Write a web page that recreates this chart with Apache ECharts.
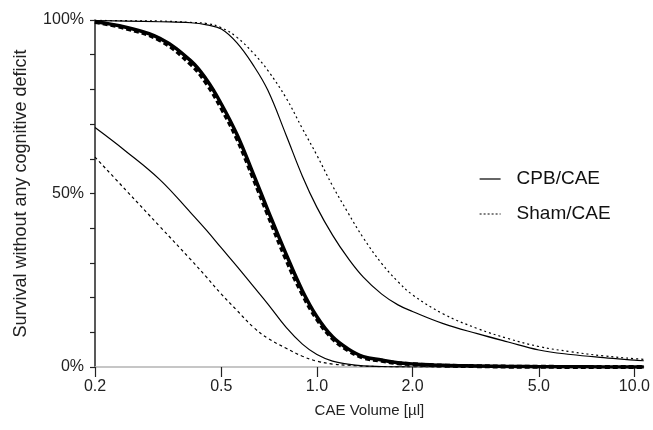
<!DOCTYPE html>
<html>
<head>
<meta charset="utf-8">
<script src="https://cdn.jsdelivr.net/npm/echarts@6/dist/echarts.min.js"></script>
<style>
  html, body { margin: 0; padding: 0; background: #fff; }
  #chart { width: 653px; height: 430px; }
</style>
</head>
<body>
<div id="chart"></div>
<script>
// CAE volume (µl) sampled along the curves
const volumes = [0.2, 0.25, 0.32, 0.4, 0.45, 0.5, 0.56, 0.63, 0.7, 0.8, 0.9, 1.0, 1.12, 1.25, 1.4, 1.6, 1.8, 2.0, 2.5, 3.2, 4, 5, 6.3, 8, 10, 10.7];
// survival (%)
const cpbFit    = [99.5, 97.9, 94.7, 88.3, 82.7, 75.8, 67, 55.7, 45.3, 32.5, 22, 14.5, 8.7, 5.3, 3.0, 2, 1.2, 0.9, 0.5, 0.3, 0.15, 0.1, 0.05, 0.03, 0.02, 0.01];
const shamFit   = [99.4, 97.6, 94.2, 87.3, 81.6, 74.6, 65.8, 54.5, 44, 31, 21, 13.8, 8.2, 4.9, 2.7, 1.8, 1.1, 0.8, 0.4, 0.25, 0.1, 0.05, 0.03, 0.02, 0.01, 0.01];
const cpbUpper  = [99.8, 99.7, 99.5, 99.2, 98.6, 97.4, 93.4, 87, 79.8, 66.8, 55, 46, 38, 31.5, 25.9, 21, 17.9, 16, 12.5, 9.6, 7.2, 4.9, 3.6, 2.7, 2.0, 1.8];
const shamUpper = [99.9, 99.8, 99.7, 99.3, 99, 97.8, 95, 90.5, 85.5, 77.5, 68.7, 61, 52.2, 44.6, 37.2, 29.8, 24.6, 20.8, 15.3, 11.1, 8.2, 5.9, 4.4, 3.2, 2.4, 2.2];
const cpbLower  = [69, 62.2, 54, 44.5, 39.3, 34.3, 29, 23.3, 18.2, 11.4, 6.6, 3.6, 1.7, 0.85, 0.35, 0.15, 0.05, 0, 0, 0, 0, 0, 0, 0, 0, 0];
const shamLower = [60.5, 51, 40.5, 31, 25.8, 21, 16.3, 11.5, 8.3, 5.4, 3.1, 1.7, 0.85, 0.5, 0.25, 0.1, 0.05, 0, 0, 0, 0, 0, 0, 0, 0, 0];

const xTicks = [0.2, 0.5, 1, 2, 5, 10];
const yTicks = [0, 50, 100];

const font = 'Liberation Sans, Arial, sans-serif';

function pairs(ys) {
  return volumes.map((v, i) => [v, ys[i]]);
}

function lineSeries(name, ys, width, type, z) {
  return {
    name: name,
    type: 'line',
    data: pairs(ys),
    symbol: 'none',
    smooth: 0.4,
    silent: true,
    z: z,
    itemStyle: { color: '#000' },
    lineStyle: { color: '#000', width: width, type: type }
  };
}

const chart = echarts.init(document.getElementById('chart'));
const option = {
  animation: false,
  grid: { left: 95, right: 8, top: 20, bottom: 63 },
  legend: {
    orient: 'vertical',
    left: 474,
    top: 164,
    itemWidth: 21,
    itemHeight: 20,
    itemGap: 15,
    data: [
      { name: 'CPB/CAE', itemStyle: { color: 'rgba(0,0,0,0)', borderWidth: 0 }, lineStyle: { color: '#000', width: 1.2, type: 'solid' } },
      { name: 'Sham/CAE', itemStyle: { color: 'rgba(0,0,0,0)', borderWidth: 0 }, lineStyle: { color: '#000', width: 1.2, type: [2, 2] } }
    ],
    textStyle: { fontFamily: font, fontSize: 19, color: '#111', lineHeight: 20, padding: [0, 0, 0, 11] },
    selectedMode: false
  },
  xAxis: {
    type: 'log',
    logBase: 10,
    min: 0.2,
    max: 10.7,
    name: 'CAE Volume [µl]',
    nameLocation: 'middle',
    nameGap: 36,
    nameTextStyle: { fontFamily: font, fontSize: 15, color: '#222' },
    axisLine: { lineStyle: { color: '#b4b4b4', width: 1.5 } },
    axisTick: { customValues: xTicks, length: 10, lineStyle: { color: '#222', width: 1.2 } },
    axisLabel: {
      customValues: xTicks,
      margin: 12,
      fontFamily: font, fontSize: 16, color: '#222',
      formatter: v => Number(v).toFixed(1)
    },
    splitLine: { show: false },
    minorTick: { show: false }
  },
  yAxis: {
    type: 'value',
    min: 0,
    max: 100,
    interval: 10,
    name: 'Survival without any cognitive deficit',
    nameLocation: 'middle',
    nameGap: 65,
    nameTextStyle: { fontFamily: font, fontSize: 18, color: '#222' },
    axisLine: { show: true, lineStyle: { color: '#222', width: 1.5 } },
    axisTick: { show: true, length: 5, lineStyle: { color: '#222', width: 1.2 } },
    axisLabel: {
      margin: 11,
      fontFamily: font, fontSize: 16, color: '#222',
      formatter: v => (yTicks.indexOf(v) >= 0 ? v + '%' : '')
    },
    splitLine: { show: false }
  },
  series: [
    lineSeries('CPB/CAE', cpbUpper, 1.2, 'solid', 3),
    lineSeries('Sham/CAE', shamUpper, 1.2, [2, 3], 3),
    lineSeries('CPB/CAE', cpbLower, 1.2, 'solid', 3),
    lineSeries('Sham/CAE', shamLower, 1.2, [3, 3], 3),
    lineSeries('Sham/CAE', shamFit, 4, [5, 3], 4),
    lineSeries('CPB/CAE', cpbFit, 3.5, 'solid', 5)
  ]
};
chart.setOption(option);
</script>
</body>
</html>
